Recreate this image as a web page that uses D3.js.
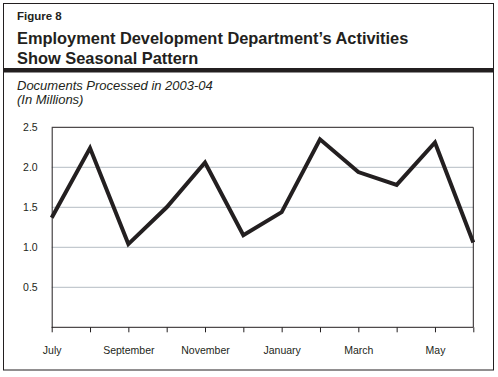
<!DOCTYPE html>
<html>
<head>
<meta charset="utf-8">
<script src="https://cdn.jsdelivr.net/npm/d3@7"></script>
<style>
  body { margin: 0; background: #fff; }
  svg { display: block; font-family: "Liberation Sans", Arial, sans-serif; }
</style>
</head>
<body>
<div class="chart"></div>
<script>
const months = ['July', 'August', 'September', 'October', 'November', 'December',
                'January', 'February', 'March', 'April', 'May', 'June'];
const documents = [1.37, 2.24, 1.04, 1.5, 2.06, 1.15, 1.44, 2.35, 1.94, 1.78, 2.31, 1.06];
const yTicks = [0.5, 1.0, 1.5, 2.0, 2.5];
const labelledMonths = ['July', 'September', 'November', 'January', 'March', 'May'];

(() => {
    const width = 498,
          height = 377;

    const svg = d3.select('.chart')
        .append('svg')
        .attr('width', width)
        .attr('height', height);

    // outer frame
    svg.append('rect')
        .attr('x', 3.5).attr('y', 3.5)
        .attr('width', 490).attr('height', 366.5)
        .attr('fill', 'none')
        .attr('stroke', '#231f20')
        .attr('stroke-width', 1);

    svg.append('rect')
        .attr('x', 3).attr('y', 68)
        .attr('width', 491).attr('height', 4.5)
        .attr('fill', '#231f20');

    svg.append('text')
        .attr('x', 17).attr('y', 20)
        .attr('font-size', 11.5).attr('font-weight', 'bold')
        .attr('fill', '#231f20')
        .text('Figure 8');

    svg.append('text')
        .attr('x', 17).attr('y', 43.5)
        .attr('font-size', 16.4).attr('font-weight', 'bold')
        .attr('fill', '#231f20')
        .text('Employment Development Department\u2019s Activities');

    svg.append('text')
        .attr('x', 17).attr('y', 63.5)
        .attr('font-size', 16.4).attr('font-weight', 'bold')
        .attr('fill', '#231f20')
        .text('Show Seasonal Pattern');

    svg.append('text')
        .attr('x', 17).attr('y', 90)
        .attr('font-size', 13).attr('font-style', 'italic')
        .attr('fill', '#231f20')
        .text('Documents Processed in 2003-04');

    svg.append('text')
        .attr('x', 17).attr('y', 103.5)
        .attr('font-size', 13).attr('font-style', 'italic')
        .attr('fill', '#231f20')
        .text('(In Millions)');

    const margin = { left: 51.7, right: 473.3, top: 127.3, bottom: 327.3 };

    const x = d3.scalePoint()
        .domain(months)
        .range([margin.left, margin.right]);

    const y = d3.scaleLinear()
        .domain([0, 2.5])
        .range([margin.bottom, margin.top]);

    // gridlines
    svg.append('g')
        .selectAll('line')
        .data(yTicks.slice(0, -1))
        .enter().append('line')
        .attr('x1', margin.left).attr('x2', margin.right)
        .attr('y1', d => y(d)).attr('y2', d => y(d))
        .attr('stroke', '#b4bcc4')
        .attr('stroke-width', 1);

    // plot frame top and right
    svg.append('path')
        .attr('d', `M${margin.left},${margin.top}H${margin.right}V${margin.bottom}`)
        .attr('fill', 'none')
        .attr('stroke', '#231f20')
        .attr('stroke-width', 1);

    const yAxis = svg.append('g')
        .attr('transform', `translate(${margin.left},0)`)
        .call(d3.axisLeft(y).tickValues(yTicks).tickSize(0).tickPadding(14)
            .tickFormat(d3.format('.1f')));
    yAxis.select('.domain').attr('stroke', '#231f20');
    yAxis.selectAll('text')
        .attr('font-size', 10.5)
        .attr('font-family', '"Liberation Sans", Arial, sans-serif')
        .attr('fill', '#231f20');

    const xAxis = svg.append('g')
        .attr('transform', `translate(0,${margin.bottom})`)
        .call(d3.axisBottom(x).tickSize(5).tickPadding(14)
            .tickFormat(d => labelledMonths.includes(d) ? d : ''));
    xAxis.select('.domain').attr('stroke', '#231f20').attr('d', `M${margin.left},0H${margin.right}`);
    xAxis.selectAll('.tick line').attr('stroke', '#231f20');
    xAxis.selectAll('text')
        .attr('font-size', 10.5)
        .attr('font-family', '"Liberation Sans", Arial, sans-serif')
        .attr('fill', '#231f20');

    const line = d3.line()
        .x((d, i) => x(months[i]))
        .y(d => y(d));

    svg.append('path')
        .datum(documents)
        .attr('d', line)
        .attr('fill', 'none')
        .attr('stroke', '#231f20')
        .attr('stroke-width', 4)
        .attr('stroke-linejoin', 'miter');
})();
</script>
</body>
</html>
